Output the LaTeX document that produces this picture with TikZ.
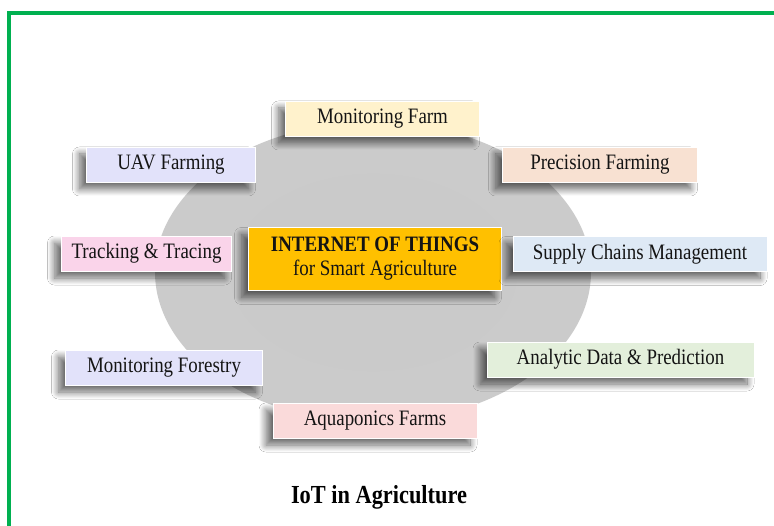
\documentclass[tikz,border=0pt]{standalone}
\usepackage{fontspec}
\setmainfont{Liberation Serif}[FakeStretch=0.86]
\usetikzlibrary{shadows.blur}

\definecolor{framegreen}{HTML}{00B050}
\definecolor{hubgold}{HTML}{FFC000}
\definecolor{cYellow}{HTML}{FFF2CC}
\definecolor{cLavender}{HTML}{E2E2FA}
\definecolor{cPeach}{HTML}{F8E1D2}
\definecolor{cPink}{HTML}{FAD4EA}
\definecolor{cBlue}{HTML}{DEE9F5}
\definecolor{cGreen}{HTML}{E3EFDB}
\definecolor{cRose}{HTML}{FADADA}

\pgfdeclareradialshading{discshade}{\pgfpoint{0bp}{0bp}}{%
  rgb(0bp)=(0.79,0.79,0.79);
  rgb(40bp)=(0.80,0.80,0.80);
  rgb(46bp)=(0.83,0.83,0.83);
  rgb(49bp)=(0.90,0.90,0.90);
  rgb(50bp)=(0.95,0.95,0.95)}

\tikzset{
  card/.style={rectangle, inner sep=0pt, minimum height=35pt,
    font=\fontsize{22}{24}\selectfont, text=black!92,
    draw=white, line width=0.6pt,
    blur shadow={shadow xshift=-7pt, shadow yshift=-7pt,
      shadow blur steps=16, shadow blur radius=7pt, shadow opacity=60}},
  hub/.style={card, fill=hubgold, align=center, minimum height=63pt},
}

\begin{document}
\begin{tikzpicture}[x=1pt, y=-1pt]
  \useasboundingbox (0,0) rectangle (774,526);
  \fill[white] (0,0) rectangle (774,526);

  % page frame: top and left rules
  \draw[framegreen, line width=4pt] (8.5,526) -- (8.5,13) -- (774,13);

  % central disc
  \shade[shading=discshade] (373,272) ellipse [x radius=218, y radius=150];

  % hub
  \node[hub, minimum width=253pt] (hub) at (375,259)
    {\textbf{INTERNET OF THINGS}\\for Smart Agriculture};

  % surrounding application areas
  \node[card, fill=cYellow,   minimum width=194pt] (farm)   at (382.5,118.5) {Monitoring Farm};
  \node[card, fill=cLavender, minimum width=169pt] (uav)    at (171,164.5)   {UAV Farming};
  \node[card, fill=cPeach,    minimum width=195pt] (prec)   at (600,164.5)   {Precision Farming};
  \node[card, fill=cPink,     minimum width=170pt] (track)  at (146.5,253.5) {Tracking \& Tracing};
  \node[card, fill=cBlue,     minimum width=254pt] (supply) at (640,254)     {Supply Chains Management};
  \node[card, fill=cLavender, minimum width=197pt] (forest) at (164,367.5)   {Monitoring Forestry};
  \node[card, fill=cGreen,    minimum width=267pt] (data)   at (620.5,359.5) {Analytic Data \& Prediction};
  \node[card, fill=cRose,     minimum width=204pt] (aqua)   at (375,420.5)   {Aquaponics Farms};

  % caption
  \node[font=\fontsize{26}{28}\selectfont\bfseries] (title) at (379,497) {IoT in Agriculture};
\end{tikzpicture}
\end{document}
